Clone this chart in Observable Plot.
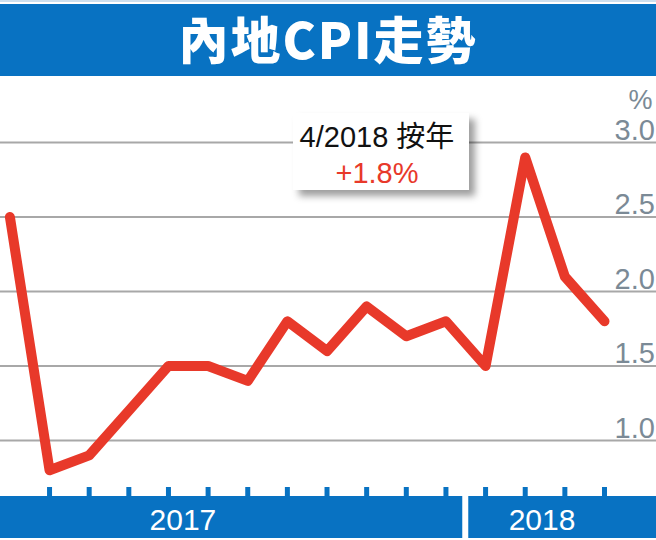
<!DOCTYPE html>
<html>
<head>
<meta charset="utf-8">
<script src="https://cdn.jsdelivr.net/npm/d3@7"></script>
<script src="https://cdn.jsdelivr.net/npm/@observablehq/plot@0.6"></script>
<style>
  html, body { margin: 0; padding: 0; background: #fff; }
  #wrap { position: relative; width: 656px; height: 540px; overflow: hidden; background: #fff; }
  #title { position: absolute; left: 0; top: 0; width: 656px; height: 80px; background: #fff; border-top: 2px solid #cddfee; box-sizing: border-box; }
  #title .bar { position: absolute; left: 0; top: 2px; width: 656px; height: 72px; background: #0872c2;
    color: #fff; font-family: "Noto Sans CJK TC", "Noto Sans CJK SC", sans-serif; font-weight: 900;
    font-size: 50px; line-height: 66px; text-align: center; letter-spacing: 2px; }
  #chart { position: absolute; left: 0; top: 80px; width: 656px; height: 460px; overflow: hidden; }
  #chart svg { overflow: hidden; }
  #note { position: absolute; left: 293px; top: 113px; width: 176px; height: 77px; background: #fff;
    box-shadow: 6px 6px 7px rgba(0,0,0,0.38); box-sizing: border-box; padding-top: 6px; padding-right: 8px;
    text-align: center; font-family: "Liberation Sans", Arial, "Noto Sans CJK TC", sans-serif; font-size: 29px; line-height: 36px; }
  #note .l1 { color: #111; }
  #note .l2 { color: #e8392a; }
</style>
</head>
<body>
<div id="wrap">
  <div id="title"><div class="bar">內地CPI走勢</div></div>
  <div id="chart"></div>
  <div id="note"></div>
</div>
<script>
// Month labels (Jan 2017 – Apr 2018) and year-on-year CPI (%)
const months = ["1/2017","2/2017","3/2017","4/2017","5/2017","6/2017","7/2017","8/2017","9/2017","10/2017","11/2017","12/2017","1/2018","2/2018","3/2018","4/2018"];
const cpi    = [2.5, 0.8, 0.9, 1.2, 1.5, 1.5, 1.4, 1.8, 1.6, 1.9, 1.7, 1.8, 1.5, 2.9, 2.1, 1.8];
const yTicks = [1.0, 1.5, 2.0, 2.5, 3.0];
const tickMonths = [1,2,3,4,5,6,7,8,9,10,11,12,13,14,15];   // month indexes with tick marks
const years      = ["2017", "2018"];
const yearStart  = [-0.5, 11.5];   // month-index boundaries of each year band
const yearEnd    = [11.5, 16.5];

const data = months.map((m, i) => ({i, month: m, value: cpi[i]}));
const bands = years.map((y, k) => ({year: y, x1: yearStart[k], x2: yearEnd[k]}));

const BLUE = "#0872c2", RED = "#e8392a", GRID = "#a8a8a8", LABEL = "#7b8a96";
const FONT = "Liberation Sans, Arial, sans-serif";
const W = 656, H = 460;
const step = 39.64, x0 = 9.4;         // pixel spacing of months
const yTop = 62, yPerUnit = 149;      // pixel position of 3.0 gridline, px per 1%

const chart = Plot.plot({
  width: W, height: H,
  marginTop: 0, marginRight: 0, marginBottom: 0, marginLeft: 0,
  x: {type: "linear", domain: [-x0 / step, (W - x0) / step], range: [0, W], axis: null},
  y: {type: "linear", domain: [3 - (H - yTop) / yPerUnit, 3 + yTop / yPerUnit], range: [H, 0], axis: null},
  style: {background: "#fff", overflow: "hidden"},
  marks: [
    Plot.ruleY(yTicks, {y: d => d, stroke: GRID, strokeWidth: 2}),
    Plot.text(yTicks, {y: d => d, text: d => d.toFixed(1), frameAnchor: "right", textAnchor: "start",
      dx: -42, dy: -3, lineAnchor: "bottom", fill: LABEL, fontSize: 29, fontFamily: FONT}),
    Plot.text(["%"], {text: d => d, frameAnchor: "top-right", textAnchor: "start", lineAnchor: "bottom",
      dx: -28, dy: 28, fill: LABEL, fontSize: 27, fontFamily: FONT}),
    Plot.line(data, {x: "i", y: "value", stroke: RED, strokeWidth: 10, strokeLinecap: "round", strokeLinejoin: "round"}),
    Plot.ruleX(tickMonths, {x: d => d, stroke: BLUE, strokeWidth: 5, insetTop: 407, insetBottom: 44}),
    Plot.rect(bands, {x1: "x1", x2: "x2", fill: BLUE, insetTop: 416, insetBottom: 2, insetLeft: 3, insetRight: 3}),
    Plot.text(bands.slice(0, 1), {x: d => (d.x1 + d.x2) / 2, text: "year", frameAnchor: "bottom", lineAnchor: "bottom",
      dx: -45, dy: -11, fill: "#fff", fontSize: 30, fontFamily: FONT}),
    Plot.text(bands.slice(1), {x: d => (12 + 15) / 2, text: "year", frameAnchor: "bottom", lineAnchor: "bottom",
      dx: -3, dy: -11, fill: "#fff", fontSize: 30, fontFamily: FONT})
  ]
});
document.getElementById("chart").appendChild(chart);

const last = data[data.length - 1];
const note = document.getElementById("note");
note.innerHTML = `<div class="l1">${last.month} 按年</div><div class="l2">+${last.value.toFixed(1)}%</div>`;
</script>
</body>
</html>
